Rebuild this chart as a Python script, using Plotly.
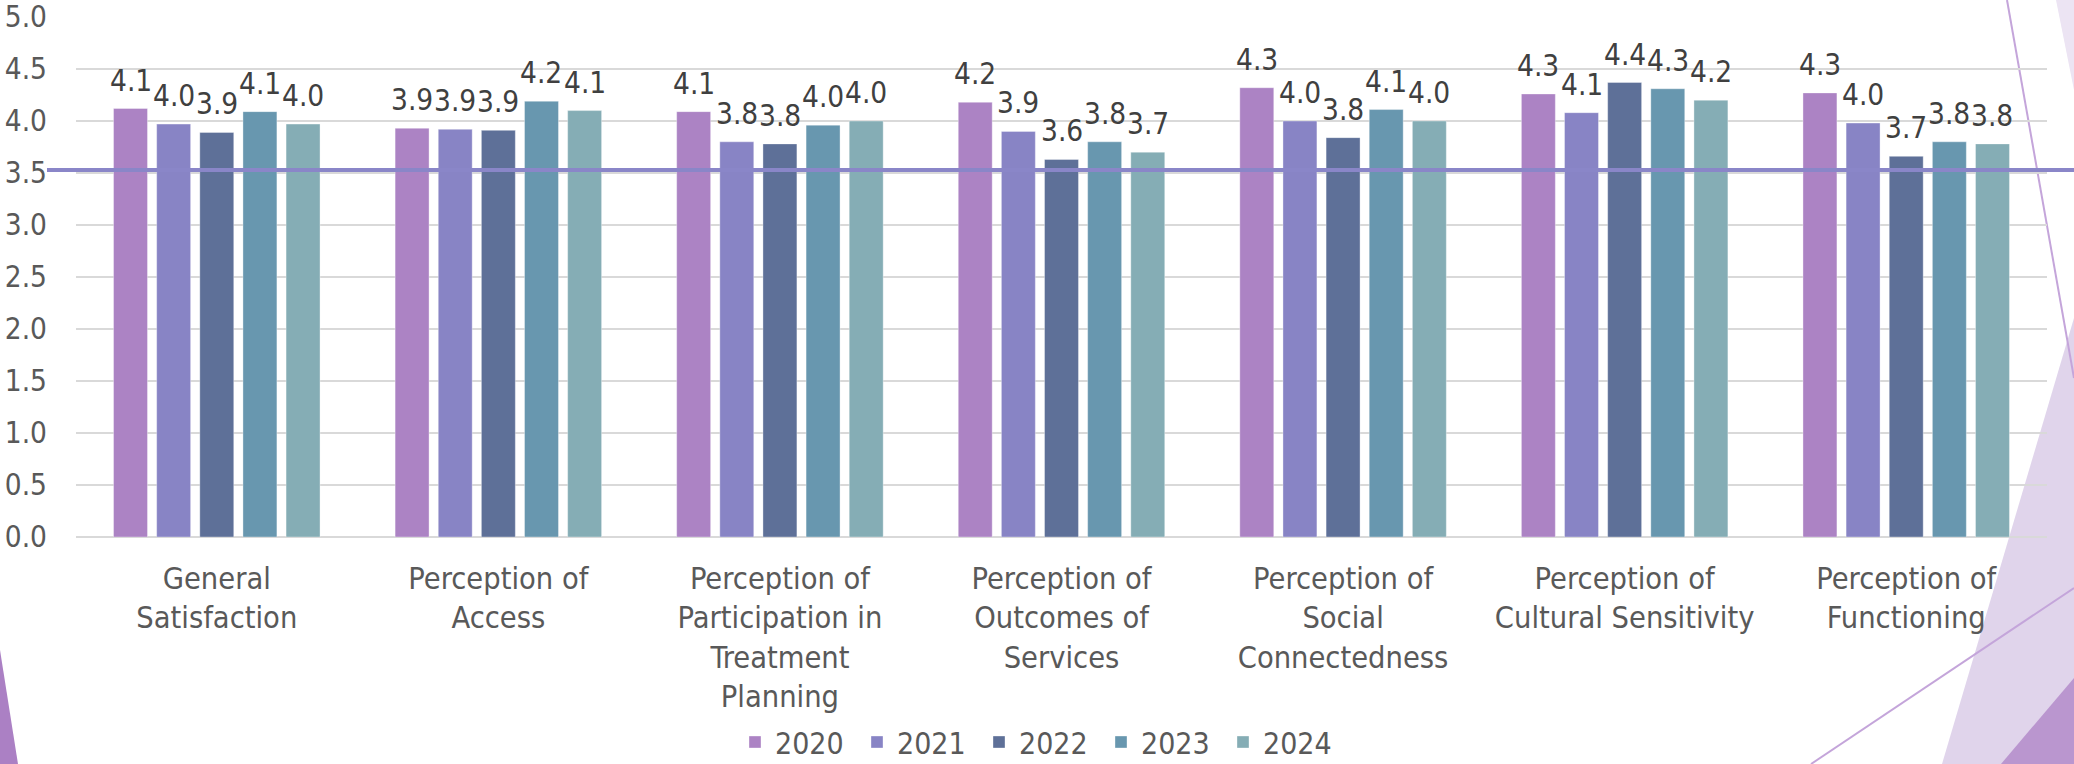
import plotly.graph_objects as go

# Survey domain scores by year
categories = [
    "General<br>Satisfaction",
    "Perception of<br>Access",
    "Perception of<br>Participation in<br>Treatment<br>Planning",
    "Perception of<br>Outcomes of<br>Services",
    "Perception of<br>Social<br>Connectedness",
    "Perception of<br>Cultural Sensitivity",
    "Perception of<br>Functioning",
]
years = ["2020", "2021", "2022", "2023", "2024"]

scores_2020 = [4.12, 3.93, 4.09, 4.18, 4.32, 4.26, 4.27]
scores_2021 = [3.97, 3.92, 3.80, 3.90, 4.00, 4.08, 3.98]
scores_2022 = [3.89, 3.91, 3.78, 3.63, 3.84, 4.37, 3.66]
scores_2023 = [4.09, 4.19, 3.96, 3.80, 4.11, 4.31, 3.80]
scores_2024 = [3.97, 4.10, 4.00, 3.70, 4.00, 4.20, 3.78]
series = [scores_2020, scores_2021, scores_2022, scores_2023, scores_2024]

benchmark = 3.53

colors = ["#AC83C4", "#8884C5", "#5E7098", "#6897AF", "#85ADB5"]

FONT = "DejaVu Sans Condensed, DejaVu Sans, sans-serif"
W, H = 2074, 764
M_L, M_R, M_T, M_B = 76, 27, 17, 227
BARGAP, GROUPGAP = 0.234, 0.213

fig = go.Figure()
for name, vals, col in zip(years, series, colors):
    fig.add_trace(go.Bar(
        name=name, x=categories, y=vals,
        marker=dict(color=col, line=dict(color="rgba(255,255,255,0.35)", width=1)),
        hoverinfo="x+y",
    ))

# value labels above each bar, aligned to the grouped bar slots
slot = (1 - BARGAP) / len(years)
annotations = []
for i, vals in enumerate(series):
    off = (i - (len(years) - 1) / 2) * slot
    for j, v in enumerate(vals):
        annotations.append(dict(
            x=j + off, y=v, xref="x", yref="y",
            text=f"{v:.1f}", showarrow=False,
            yanchor="bottom", xanchor="center", yshift=9,
            font=dict(family=FONT, size=29.5, color="#404040"),
        ))

pw = W - M_L - M_R
ph = H - M_T - M_B


def px(x, y):
    # figure pixels -> paper coordinates
    return (x - M_L) / pw, (H - M_B - y) / ph


def poly(points):
    pts = [px(x, y) for x, y in points]
    return "M " + " L ".join(f"{a:.5f},{b:.5f}" for a, b in pts) + " Z"


shapes = [
    # slide decoration
    dict(type="path", xref="paper", yref="paper", layer="below",
         path=poly([(2074, 318), (1942, 764), (2074, 764)]),
         fillcolor="#E0D4EB", line=dict(width=0)),
    dict(type="path", xref="paper", yref="paper", layer="below",
         path=poly([(2001, 764), (2074, 678), (2074, 764)]),
         fillcolor="#BA96CF", line=dict(width=0)),
    dict(type="path", xref="paper", yref="paper", layer="below",
         path=poly([(2056, 0), (2074, 0), (2074, 90)]),
         fillcolor="#ECE4F3", line=dict(width=0)),
    dict(type="path", xref="paper", yref="paper", layer="below",
         path=poly([(0, 650), (18, 764), (0, 764)]),
         fillcolor="#AB80C4", line=dict(width=0)),
]
for (x0, y0), (x1, y1) in [((2007, 0), (2074, 378)), ((1811, 764), (2074, 588))]:
    a0, b0 = px(x0, y0)
    a1, b1 = px(x1, y1)
    shapes.append(dict(type="line", xref="paper", yref="paper", layer="below",
                       x0=a0, y0=b0, x1=a1, y1=b1,
                       line=dict(color="#C4A5DA", width=2)))

# benchmark line across the chart
bx0, _ = px(47, 0)
bx1, _ = px(2074, 0)
shapes.append(dict(type="line", xref="paper", yref="y", layer="above",
                   x0=bx0, x1=bx1, y0=benchmark, y1=benchmark,
                   line=dict(color="#8A86C8", width=4)))

lx, ly = px(1040, 742)

fig.update_layout(
    width=W, height=H,
    margin=dict(l=M_L, r=M_R, t=M_T, b=M_B, autoexpand=False),
    paper_bgcolor="white", plot_bgcolor="rgba(0,0,0,0)",
    barmode="group", bargap=BARGAP, bargroupgap=GROUPGAP,
    font=dict(family=FONT, size=29, color="#595959"),
    showlegend=True,
    legend=dict(orientation="h", x=lx, y=ly, xanchor="center", yanchor="middle",
                font=dict(family=FONT, size=30, color="#595959"),
                entrywidth=77, entrywidthmode="pixels",
                bgcolor="rgba(0,0,0,0)", itemclick=False),
    annotations=annotations,
    shapes=shapes,
    xaxis=dict(showgrid=False, showline=False, ticks="", tickangle=0,
               ticklabelstandoff=20,
               tickfont=dict(family=FONT, size=30.5, color="#595959")),
    yaxis=dict(range=[0, 5], dtick=0.5, tickformat=".1f",
               showgrid=True, gridcolor="#D9D9D9", gridwidth=2,
               zeroline=True, zerolinecolor="#D9D9D9", zerolinewidth=2,
               showline=False, ticks="", ticklabelstandoff=28,
               tickfont=dict(family=FONT, size=29.5, color="#595959")),
)

fig.write_html("out.html")
